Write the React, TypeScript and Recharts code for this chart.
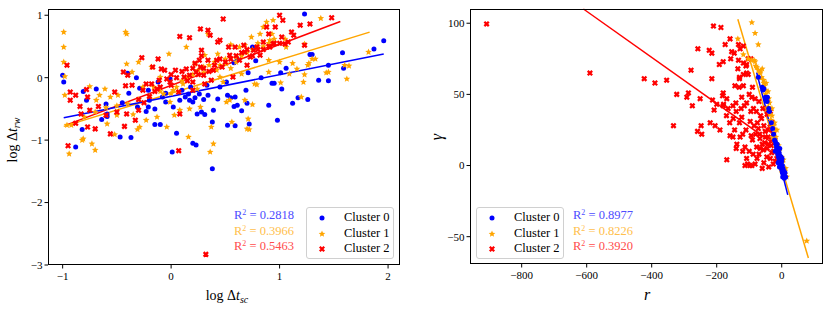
import React from "react";
import { ScatterChart, Scatter, XAxis, YAxis, ReferenceLine } from "recharts";

const FONT = '"Liberation Serif", "DejaVu Serif", serif';
const BLUE = "#0000ff";
const ORANGE = "#ffa500";
const RED = "#ff0000";

// left panel: log dt_sc vs log dt_rw
const leftCluster0: [number, number][] = [
  [-1.0, 0.04], [-0.99, -0.07], [-0.82, -0.83], [-0.88, -1.11], [-0.78, -0.36], [-0.69, -0.18],
  [-0.59, -0.58], [-0.59, -0.62], [-0.64, -0.67], [-0.47, -0.95], [-0.39, -0.25], [-0.32, 0.0],
  [-0.37, -0.96], [-0.31, -0.47], [-0.23, -0.54], [-0.21, -0.47], [-0.2, -0.36], [-0.15, -0.75],
  [-0.1, -0.75], [-0.15, -0.5], [-0.08, -0.31], [-0.05, -0.39], [0.01, -1.19], [0.02, -0.47],
  [0.05, -0.89], [0.08, -0.36], [0.13, -0.31], [0.16, -0.26], [0.17, -0.36], [0.2, -0.39],
  [0.2, -1.05], [0.23, -1.08], [0.24, -0.58], [0.26, -0.26], [0.28, -0.55], [0.3, -0.35],
  [0.31, -0.59], [0.38, -0.71], [0.33, -0.12], [0.34, -0.28], [0.38, -1.46], [0.39, -0.52],
  [0.43, -0.34], [0.45, -0.15], [0.51, -0.07], [0.52, -0.28], [0.55, -0.32], [0.59, -0.31],
  [0.58, -0.46], [0.61, -0.44], [0.65, -0.53], [0.52, -0.76], [0.59, -0.77], [0.72, -0.74],
  [0.7, -0.41], [0.69, -0.2], [0.71, 0.08], [0.75, 0.49], [0.78, 0.27], [0.61, 0.3], [0.58, 0.24],
  [0.83, 0.0], [0.9, -0.44], [0.93, -0.09], [0.95, -0.09], [1.01, 0.08], [1.02, -0.18],
  [1.06, 0.15], [0.98, -0.68], [1.12, -0.41], [1.17, -0.32], [1.26, -0.35], [1.28, 0.37],
  [1.3, 0.37], [1.23, 1.02], [1.36, -0.04], [1.45, -0.05], [1.45, 0.2], [1.58, 0.4], [1.59, 0.15],
  [1.87, 0.46], [1.96, 0.59], [-0.4, 0.07], [-0.29, -0.17], [-0.21, -0.2], [-0.12, -0.07],
  [-0.81, -0.22], [-0.01, -0.02], [0.1, -0.2], [0.18, -0.15], [-0.05, -0.25], [0.22, -0.32],
  [-0.45, -0.4], [-0.6, -0.42],
];

const leftCluster1: [number, number][] = [
  [-0.99, 0.73], [-0.99, 0.49], [-0.99, 0.25], [-0.98, 0.02], [-0.98, -0.28], [-0.96, -0.76],
  [-0.94, -1.22], [-0.92, -0.76], [-0.82, -1.0], [-0.81, -0.98], [-0.73, -1.06], [-0.7, -1.16],
  [-0.75, -0.14], [-0.69, -0.36], [-0.66, -0.28], [-0.61, -0.18], [-0.59, -0.74], [-0.56, -0.31],
  [-0.52, -0.91], [-0.49, -0.28], [-0.5, -0.6], [-0.42, 0.73], [-0.41, 0.7], [-0.41, 0.22],
  [-0.36, 0.09], [-0.35, -0.59], [-0.3, 0.25], [-0.29, -0.79], [-0.31, -0.83], [-0.26, -0.15],
  [-0.23, -0.68], [-0.18, 0.17], [-0.16, -0.15], [-0.13, -0.63], [-0.1, 0.01], [-0.07, -0.26],
  [-0.02, 0.38], [-0.01, -0.39], [-0.04, -0.79], [0.03, -0.6], [0.02, -0.2], [0.08, -0.52],
  [0.11, -0.1], [0.14, 0.49], [0.16, -0.95], [0.17, -0.5], [0.22, 0.22], [0.24, -0.18],
  [0.27, -0.47], [0.3, 0.17], [0.31, 0.36], [0.34, 0.7], [0.36, -1.19], [0.39, -1.06],
  [0.37, -0.79], [0.42, 0.12], [0.43, 0.38], [0.45, 0.01], [0.48, -0.07], [0.51, 0.22],
  [0.54, -0.36], [0.51, -0.39], [0.56, -0.71], [0.6, 0.33], [0.63, 0.49], [0.65, 0.06],
  [0.68, -0.36], [0.7, -0.82], [0.72, -0.83], [0.71, -0.66], [0.74, 0.65], [0.75, -0.43],
  [0.77, -0.1], [0.82, 0.7], [0.85, 0.81], [0.88, 0.89], [0.9, 0.28], [0.91, 0.6], [0.93, 0.7],
  [0.94, 0.92], [1.0, 0.25], [1.06, 0.49], [1.05, 0.62], [1.09, 0.06], [1.12, 0.23], [1.16, 0.14],
  [1.2, -0.31], [1.23, 0.54], [1.26, 0.2], [1.27, 0.23], [1.3, 0.3], [1.33, 0.3], [1.23, 0.05],
  [1.22, -0.07], [1.01, -0.08], [0.79, -0.11], [0.9, 0.09], [0.68, 0.52], [0.55, 0.53],
  [1.38, 0.95], [1.43, 0.08], [1.45, 0.09], [1.6, 0.2], [1.62, -0.02], [1.64, 0.19], [1.82, 0.41],
  [-0.8, -0.63], [-0.7, -0.55], [-0.6, -0.48], [-0.5, -0.45], [-0.4, -0.42], [-0.3, -0.35],
  [-0.2, -0.3], [-0.1, -0.22], [0.0, -0.25], [0.05, -0.15], [0.1, -0.05], [0.15, 0.0],
  [0.2, 0.05], [0.25, 0.12], [0.3, 0.08], [0.35, 0.2], [0.4, 0.25], [0.45, 0.2], [0.5, 0.3],
  [0.55, 0.15], [0.6, 0.25], [0.65, 0.35], [0.7, 0.4], [0.75, 0.45], [0.8, 0.55], [0.85, 0.5],
  [0.9, 0.55], [0.95, 0.62],
];

const leftCluster2: [number, number][] = [
  [-0.96, 0.2], [-0.95, -1.09], [-0.93, -0.23], [-0.93, -0.36], [-0.88, -0.28], [-0.84, -0.46],
  [-0.83, -0.58], [-0.88, -0.73], [-0.78, -0.19], [-0.77, -0.79], [-0.77, -0.31], [-0.75, -0.52],
  [-0.7, -0.82], [-0.67, -0.46], [-0.56, -0.9], [-0.52, -0.23], [-0.44, 0.09], [-0.43, -0.78],
  [-0.41, -0.58], [-0.4, 0.04], [-0.36, -0.12], [-0.33, -0.68], [-0.3, -0.52], [-0.27, 0.32],
  [-0.26, -0.2], [-0.23, -0.1], [-0.18, -0.1], [-0.17, 0.17], [-0.13, -0.18], [-0.11, -0.04],
  [-0.09, 0.14], [-0.06, 0.12], [-0.04, -0.02], [-0.01, -0.07], [0.04, 0.12], [0.07, -0.23],
  [0.08, 0.66], [0.08, -0.58], [0.07, -1.17], [0.12, 0.01], [0.14, 0.14], [0.17, 0.64],
  [0.17, 0.04], [0.2, -0.07], [0.22, 0.23], [0.23, 0.09], [0.27, 0.17], [0.27, 0.78],
  [0.28, 0.44], [0.3, 0.04], [0.31, -0.1], [0.32, -2.83], [0.34, 0.76], [0.34, 0.28],
  [0.37, -0.04], [0.39, 0.12], [0.42, 0.28], [0.43, 0.57], [0.45, 0.6], [0.47, 0.17], [0.48, 0.94],
  [0.53, 0.49], [0.54, 0.36], [0.57, 0.01], [0.59, 0.49], [0.63, 0.28], [0.67, 0.52], [0.68, 0.41],
  [0.7, 0.2], [0.73, 0.33], [0.76, 0.44], [0.79, 0.49], [0.82, 0.36], [0.85, 0.57], [0.88, 0.81],
  [0.9, 0.7], [0.91, 0.49], [0.94, 0.54], [0.96, 0.81], [1.0, 1.0], [1.02, 0.65], [1.03, 0.92],
  [1.05, 0.54], [1.08, 0.57], [1.11, 0.73], [1.13, 0.68], [1.19, 0.84], [1.23, 0.52], [1.28, 0.86],
  [1.48, 0.96], [-0.12, 0.3], [0.36, 0.68], [0.28, 0.35], [0.26, 0.28], [-0.42, -0.13],
  [0.0, 0.05], [0.05, 0.0], [0.1, 0.1], [0.15, -0.05], [0.2, 0.15], [0.25, 0.05], [0.3, 0.15],
  [0.35, 0.1], [0.4, 0.2], [0.45, 0.3], [0.5, 0.25], [0.55, 0.3], [0.6, 0.35], [0.65, 0.4],
  [0.7, 0.45], [0.75, 0.35], [0.8, 0.45], [0.85, 0.45], [0.9, 0.5], [0.95, 0.55], [1.0, 0.55],
  [-0.2, -0.3], [-0.3, -0.35], [-0.1, -0.15], [-0.15, -0.22], [0.0, -0.12], [-0.5, -0.55],
  [-0.6, -0.6], [-0.25, -0.4], [0.2, -0.2],
];

// right panel: r vs gamma
const rightCluster0: [number, number][] = [
  [-72, 62], [-60, 55], [-58, 53], [-50, 48], [-48, 46], [-45, 45], [-40, 40], [-38, 38],
  [-32, 30], [-28, 26], [-25, 22], [-22, 18], [-20, 17], [-18, 15], [-16, 13], [-15, 11],
  [-13, 10], [-12, 8], [-10, 12], [-10, 6], [-8, 9], [-8, 4], [-6, 7], [-5, 3], [-5, 0],
  [-4, 5], [-3, 2], [-2, -1], [0, 3], [0, -3], [2, 0], [2, -5], [4, -2], [5, -7], [7, -4],
  [8, -9], [10, -5], [12, -8], [-14, 15], [-6, 12], [-2, 6], [-11, 2], [-7, -1], [1, 5],
  [3, -8], [-20, 10], [-55, 54], [-44, 48],
];

const rightCluster1: [number, number][] = [
  [-92, 100.5], [-82, 93], [-72, 85], [-135, 89], [-118, 78], [-103, 75], [-92, 74], [-82, 73],
  [-77, 69], [-72, 67], [-67, 65], [-62, 62], [-56, 60], [-53, 56], [-51, 53], [-46, 48],
  [-43, 45], [-41, 41], [-36, 36], [-33, 32], [-31, 27], [-26, 22], [-23, 18], [-18, 13],
  [-15, 9], [-10, 6], [-5, 4], [0, 0], [5, -2], [10, -6], [15, -8], [77, -53],
  [-60, 55], [-50, 50], [-45, 40], [-40, 47], [-35, 30], [-30, 35], [-28, 20], [-20, 25],
  [-15, 15], [-12, 12], [-8, 10], [-3, 5], [2, 2], [-55, 58], [-65, 66], [-70, 62], [-48, 58],
  [-38, 44], [-25, 28], [-18, 20], [-10, 14], [0, 6], [5, 4], [-2, -3], [8, -4], [12, -2],
  [-80, 70], [-85, 74], [-60, 68], [-42, 52], [-30, 40], [-22, 30], [-15, 25],
];

const rightCluster2: [number, number][] = [
  [-908, 99.5], [-590, 65], [-423, 61], [-390, 58], [-354, 60], [-323, 50], [-292, 48],
  [-287, 51], [-275, 42], [-279, 67], [-333, 28], [-259, 24], [-248, 28], [-246, 22], [-251, 47],
  [-258, 82], [-223, 81], [-215, 79], [-215, 61], [-213, 46], [-210, 98], [-208, 39], [-205, 28],
  [-190, 25], [-187, 97], [-192, 71], [-180, 73], [-180, 51], [-174, 85], [-169, 4], [-169, 47],
  [-159, 89], [-154, 80], [-159, 21], [-149, 33], [-146, 79], [-144, 56], [-141, 44], [-138, 15],
  [-135, 68], [-133, 74], [-131, 55], [-128, 20], [-123, 34], [-118, 84], [-118, 72], [-118, 56],
  [-115, 42], [-113, 13], [-108, 5], [-105, 1], [-103, 64], [-97, 31], [-94, 21], [-87, 40],
  [-82, 47], [-82, 1], [-77, 13], [-72, 26], [-67, 19], [-62, 33], [-56, 11], [-51, 24], [-46, 6],
  [-41, 15], [-36, 27], [-31, 9], [-26, 1], [-21, 18], [-15, 5], [-157, 75], [-128, 82],
  [-133, 85], [-108, 71], [-103, 75], [-118, 64], [-108, 65], [-130, 61], [-182, 49], [-179, 43],
  [-108, 44], [-92, 48], [-123, 48], [-100, 10], [-90, 18], [-80, 22], [-70, 8], [-60, 15],
  [-55, 28], [-50, 20], [-45, 12], [-40, 25], [-35, 5], [-30, 18], [-25, 10], [-20, 3], [-15, 14],
  [-10, 8], [-5, 2], [-65, 35], [-75, 30], [-85, 28], [-95, 38], [-110, 25], [-120, 22],
  [-130, 30], [-140, 12], [-150, 20], [-160, 30], [-170, 35], [-180, 42], [-200, 43], [-220, 30],
  [-60, -2], [-40, -1], [-30, 30], [-50, 40], [-70, 45], [-45, 36], [-100, 50], [-90, 55],
  [-130, 62], [-110, 70], [-95, 75], [-120, 10], [-55, 2], [-25, 22], [-35, 38], [-150, 42],
  [-140, 38], [-165, 40], [-145, 25], [-125, 40], [-88, 8], [-78, 38], [-68, 22], [-58, 40],
  [-113, 0], [-98, 0], [-92, 0], [-76, 5], [-66, 12], [-52, 16], [-42, 20], [-32, 14],
];

// regression line end points
const leftFit0 = [{ x: -0.99, y: -0.64 }, { x: 1.96, y: 0.38 }];
const leftFit1 = [{ x: -0.99, y: -0.78 }, { x: 1.83, y: 0.73 }];
const leftFit2 = [{ x: -0.97, y: -0.76 }, { x: 1.56, y: 0.9 }];
const rightFit0 = [{ x: -77, y: 65.4 }, { x: 18.5, y: -20.6 }];
const rightFit1 = [{ x: -135, y: 102.8 }, { x: 82, y: -65 }];
const rightFit2 = [{ x: -610, y: 110 }, { x: -5, y: 12 }];

const leftR2 = ["0.2818", "0.3966", "0.5463"];
const rightR2 = ["0.8977", "0.8226", "0.3920"];
const clusterNames = ["Cluster 0", "Cluster 1", "Cluster 2"];

const leftXTicks = [-1, 0, 1, 2];
const leftYTicks = [-3, -2, -1, 0, 1];
const rightXTicks = [-800, -600, -400, -200, 0];
const rightYTicks = [-50, 0, 50, 100];

const toPoints = (arr: [number, number][]) => arr.map(([x, y]) => ({ x, y }));

const fmt = (v: number) => String(v).replace("-", "\u2212");

const starPath = (cx: number, cy: number, R: number, r: number) => {
  const pts: string[] = [];
  for (let i = 0; i < 10; i++) {
    const a = -Math.PI / 2 + (i * Math.PI) / 5;
    const rad = i % 2 === 0 ? R : r;
    pts.push(`${cx + rad * Math.cos(a)},${cy + rad * Math.sin(a)}`);
  }
  return pts.join(" ");
};

const BlueDot = (p: any) => <circle cx={p.cx} cy={p.cy} r={2.5} fill={BLUE} />;
const OrangeStar = (p: any) => <polygon points={starPath(p.cx, p.cy, 3.5, 1.6)} fill={ORANGE} />;
const RedX = (p: any) => {
  const d = 2.2;
  return (
    <path
      d={`M${p.cx - d},${p.cy - d}L${p.cx + d},${p.cy + d}M${p.cx - d},${p.cy + d}L${p.cx + d},${p.cy - d}`}
      stroke={RED}
      strokeWidth={2.3}
    />
  );
};
const shapes = [BlueDot, OrangeStar, RedX];
const r2Colors = ["#4d4dff", "#ffc04d", "#ff4d4d"];

const tickStyle = { fill: "#000", fontSize: 11, fontFamily: FONT };

function LegendBox({ left }: { left: number }) {
  return (
    <div
      style={{
        position: "absolute",
        left,
        top: 207,
        width: 88,
        height: 52,
        border: "1px solid #d0d0d0",
        borderRadius: 3,
        background: "rgba(255,255,255,0.8)",
        boxSizing: "border-box",
        fontFamily: FONT,
        fontSize: 12.5,
      }}
    >
      {clusterNames.map((name, i) => {
        const Shape = shapes[i];
        return (
          <div key={name} style={{ position: "absolute", top: 2 + i * 15.5, left: 0, height: 15, width: 86 }}>
            <svg width={12} height={12} style={{ position: "absolute", left: 9, top: 2 }}>
              <Shape cx={6} cy={6} />
            </svg>
            <span style={{ position: "absolute", left: 37, top: 0, whiteSpace: "nowrap" }}>{name}</span>
          </div>
        );
      })}
    </div>
  );
}

function R2Labels({ x, align, values }: { x: number; align: "left" | "right"; values: string[] }) {
  return (
    <>
      {values.map((v, i) => (
        <div
          key={v}
          style={{
            position: "absolute",
            top: 208 + i * 15.5,
            left: align === "left" ? x : undefined,
            right: align === "right" ? 831 - x : undefined,
            color: r2Colors[i],
            fontFamily: FONT,
            fontSize: 12.5,
            whiteSpace: "nowrap",
          }}
        >
          R<sup style={{ fontSize: 8, verticalAlign: "4px" }}>2</sup> = {v}
        </div>
      ))}
    </>
  );
}

const frame = (left: number, top: number, width: number, height: number) => (
  <div
    style={{
      position: "absolute",
      left,
      top,
      width,
      height,
      border: "1px solid #000",
      boxSizing: "border-box",
      pointerEvents: "none",
    }}
  />
);

export default function App() {
  const lc = [leftCluster0, leftCluster1, leftCluster2].map(toPoints);
  const rc = [rightCluster0, rightCluster1, rightCluster2].map(toPoints);

  return (
    <div style={{ position: "absolute", left: 0, top: 0, width: 831, height: 312, background: "#fff" }}>
      <div style={{ position: "absolute", left: 0, top: 0 }}>
        <ScatterChart width={415} height={312} margin={{ top: 9, right: 15, bottom: 27, left: 18 }}>
          <XAxis
            type="number"
            dataKey="x"
            domain={[-1.135, 2.11]}
            ticks={leftXTicks}
            interval={0}
            height={20}
            axisLine={false}
            tickSize={3.5}
            tickMargin={4}
            tickLine={{ stroke: "#000" }}
            tick={tickStyle}
            tickFormatter={fmt}
            allowDataOverflow
          />
          <YAxis
            type="number"
            dataKey="y"
            domain={[-3, 1.1]}
            ticks={leftYTicks}
            interval={0}
            width={30}
            axisLine={false}
            tickSize={3.5}
            tickMargin={2}
            tickLine={{ stroke: "#000" }}
            tick={tickStyle}
            tickFormatter={fmt}
            allowDataOverflow
          />
          {lc.map((d, i) => (
            <Scatter key={i} data={d} shape={shapes[i]} isAnimationActive={false} />
          ))}
          <ReferenceLine segment={leftFit2} stroke={RED} strokeWidth={1.5} ifOverflow="visible" />
          <ReferenceLine segment={leftFit1} stroke={ORANGE} strokeWidth={1.5} ifOverflow="visible" />
          <ReferenceLine segment={leftFit0} stroke={BLUE} strokeWidth={1.5} ifOverflow="visible" />
        </ScatterChart>
      </div>
      <div style={{ position: "absolute", left: 415, top: 0 }}>
        <ScatterChart width={416} height={312} margin={{ top: 9, right: 8, bottom: 28, left: 25 }}>
          <XAxis
            type="number"
            dataKey="x"
            domain={[-959, 127]}
            ticks={rightXTicks}
            interval={0}
            height={20}
            axisLine={false}
            tickSize={3.5}
            tickMargin={4}
            tickLine={{ stroke: "#000" }}
            tick={tickStyle}
            tickFormatter={fmt}
            allowDataOverflow
          />
          <YAxis
            type="number"
            dataKey="y"
            domain={[-69.2, 110]}
            ticks={rightYTicks}
            interval={0}
            width={30}
            axisLine={false}
            tickSize={3.5}
            tickMargin={2}
            tickLine={{ stroke: "#000" }}
            tick={tickStyle}
            tickFormatter={fmt}
            allowDataOverflow
          />
          {[2, 1, 0].map((i) => (
            <Scatter key={i} data={rc[i]} shape={shapes[i]} isAnimationActive={false} />
          ))}
          <ReferenceLine segment={rightFit2} stroke={RED} strokeWidth={1.5} ifOverflow="visible" />
          <ReferenceLine segment={rightFit1} stroke={ORANGE} strokeWidth={1.5} ifOverflow="visible" />
          <ReferenceLine segment={rightFit0} stroke={BLUE} strokeWidth={1.5} ifOverflow="visible" />
        </ScatterChart>
      </div>

      {frame(48, 9, 352, 256)}
      {frame(470, 9, 353, 255)}

      <R2Labels x={294} align="right" values={leftR2} />
      <LegendBox left={306} />
      <LegendBox left={476} />
      <R2Labels x={573} align="left" values={rightR2} />

      {/* axis labels */}
      <div
        style={{
          position: "absolute",
          left: 13,
          top: 140,
          transform: "translate(-50%, -50%) rotate(-90deg)",
          fontFamily: FONT,
          fontSize: 14,
          whiteSpace: "nowrap",
        }}
      >
        log Δ<i>t</i>
        <i style={{ fontSize: 10, verticalAlign: "-3px" }}>rw</i>
      </div>
      <div
        style={{
          position: "absolute",
          left: 227,
          top: 296,
          transform: "translate(-50%, -50%)",
          fontFamily: FONT,
          fontSize: 14,
          whiteSpace: "nowrap",
        }}
      >
        log Δ<i>t</i>
        <i style={{ fontSize: 10, verticalAlign: "-3px" }}>sc</i>
      </div>
      <div
        style={{
          position: "absolute",
          left: 437,
          top: 137,
          transform: "translate(-50%, -50%) rotate(-90deg)",
          fontFamily: FONT,
          fontSize: 16,
          fontStyle: "italic",
        }}
      >
        γ
      </div>
      <div
        style={{
          position: "absolute",
          left: 647,
          top: 295,
          transform: "translate(-50%, -50%)",
          fontFamily: FONT,
          fontSize: 16,
          fontStyle: "italic",
        }}
      >
        r
      </div>
    </div>
  );
}
